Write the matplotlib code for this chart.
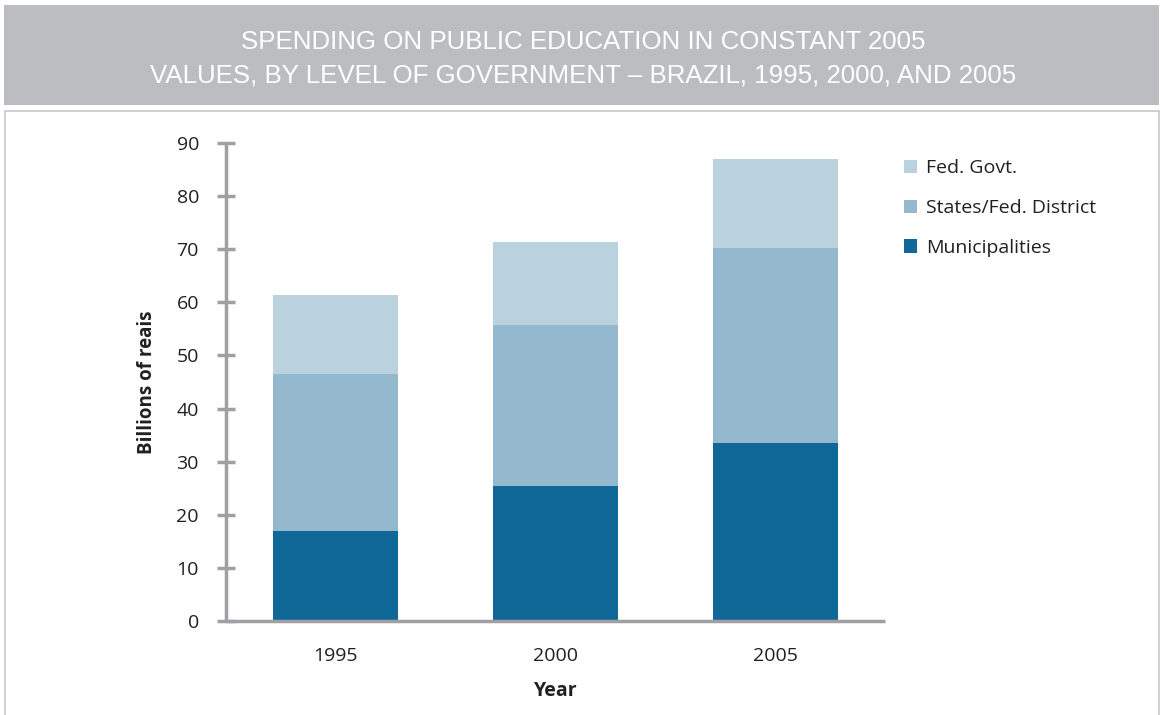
import matplotlib.pyplot as plt
from matplotlib.patches import Rectangle

years = ["1995", "2000", "2005"]
municipalities = [17.0, 25.4, 33.6]
states = [29.5, 30.4, 36.7]
federal = [14.9, 15.6, 16.7]

title = ("SPENDING ON PUBLIC EDUCATION IN CONSTANT 2005\n"
         "VALUES, BY LEVEL OF GOVERNMENT \u2013 BRAZIL, 1995, 2000, AND 2005")

plt.rcParams["font.family"] = ["Open Sans", "DejaVu Sans"]
TXT = "#231f20"

fig = plt.figure(figsize=(11.64, 7.15), dpi=100)
W, H = 1164, 715

# header band and frame
fig.patches.append(Rectangle((4 / W, 1 - 105 / H), 1155 / W, 100 / H,
                             transform=fig.transFigure, facecolor="#bcbdc0",
                             edgecolor="none", zorder=0))
fig.patches.append(Rectangle((5 / W, -0.01), 1154 / W, 1 - 111 / H + 0.01,
                             transform=fig.transFigure, facecolor="none",
                             edgecolor="#c8c8ca", linewidth=1.2, zorder=0))
fig.text(583 / W, 1 - 58.5 / H, title, ha="center", va="center", color="white",
         fontsize=18.6, family=["Liberation Sans", "DejaVu Sans"],
         linespacing=1.5)

ax = fig.add_axes([226 / W, 1 - 621 / H, (885 - 226) / W, (621 - 143) / H])
x = range(len(years))
w = 0.57
c_mun, c_sta, c_fed = "#106898", "#94b8ce", "#bad1de"
ax.bar(x, municipalities, w, color=c_mun, label="Municipalities")
ax.bar(x, states, w, bottom=municipalities, color=c_sta,
       label="States/Fed. District")
bottom3 = [a + b for a, b in zip(municipalities, states)]
ax.bar(x, federal, w, bottom=bottom3, color=c_fed, label="Fed. Govt.")

ax.set_xlim(-0.5, 2.5)
ax.set_ylim(0, 90)
ax.set_yticks(range(0, 91, 10))
ax.set_xticks(list(x))
ax.set_xticklabels(years)
for s in ["top", "right"]:
    ax.spines[s].set_visible(False)
for s in ["left", "bottom"]:
    ax.spines[s].set_color("#a0a0a4")
    ax.spines[s].set_linewidth(2.5)
    ax.spines[s].set_capstyle("butt")
ax.tick_params(axis="y", direction="inout", length=13, width=2.5,
               color="#a0a0a4", labelsize=14, labelcolor=TXT, pad=13)
ax.tick_params(axis="x", length=0, labelsize=14, labelcolor=TXT, pad=19)
ax.set_ylabel("Billions of reais", fontsize=13.5, fontweight="bold",
              color=TXT)
ax.yaxis.set_label_coords(-0.105, 0.5)
ax.set_xlabel("Year", fontsize=14, fontweight="bold", color=TXT)
ax.xaxis.set_label_coords(0.5, -0.126)

handles, labels = ax.get_legend_handles_labels()
fig.legend(handles[::-1], labels[::-1], loc="upper left",
           bbox_to_anchor=(886 / W, 1 - 142 / H), frameon=False,
           fontsize=14, handlelength=0.7, handleheight=0.7,
           handletextpad=0.46, labelspacing=1.12, labelcolor=TXT)

fig.savefig("out.png", dpi=100)
